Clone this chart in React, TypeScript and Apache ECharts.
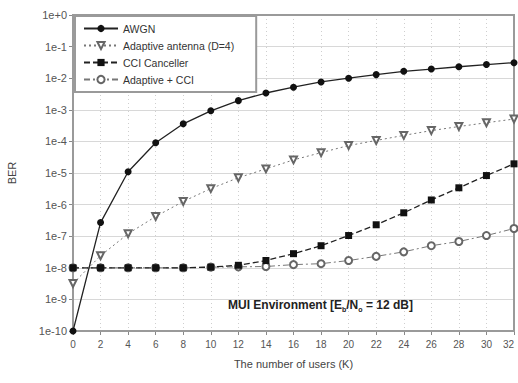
import React, { useEffect, useRef } from "react";
import * as echarts from "echarts";

const users = [0, 2, 4, 6, 8, 10, 12, 14, 16, 18, 20, 22, 24, 26, 28, 30, 32];

const awgn = [1e-10, 2.7e-7, 1.1e-5, 9.1e-5, 3.6e-4, 9.3e-4, 1.95e-3, 3.4e-3, 5.2e-3, 7.6e-3, 1.0e-2, 1.3e-2, 1.65e-2, 1.95e-2, 2.3e-2, 2.7e-2, 3.1e-2];
const adaptive = [3.2e-9, 2.4e-8, 1.2e-7, 4.2e-7, 1.26e-6, 3.2e-6, 7.1e-6, 1.35e-5, 2.6e-5, 4.4e-5, 7.4e-5, 1.07e-4, 1.55e-4, 2.2e-4, 2.95e-4, 3.9e-4, 5.1e-4];
const cci = [1e-8, 1e-8, 1e-8, 1e-8, 1e-8, 1.05e-8, 1.2e-8, 1.7e-8, 2.8e-8, 5e-8, 1.05e-7, 2.3e-7, 5.5e-7, 1.4e-6, 3.4e-6, 8.3e-6, 1.95e-5];
const adaptiveCci = [1e-8, 1e-8, 1e-8, 1e-8, 1e-8, 1.05e-8, 1.07e-8, 1.1e-8, 1.26e-8, 1.35e-8, 1.7e-8, 2.3e-8, 3.2e-8, 5e-8, 6.8e-8, 1.05e-7, 1.75e-7];

const seriesNames = ["AWGN", "Adaptive antenna (D=4)", "CCI Canceller", "Adaptive + CCI"];

const FONT = "Liberation Sans";

export default function App() {
  const ref = useRef<HTMLDivElement>(null);
  useEffect(() => {
    if (!ref.current) return;
    const chart = echarts.init(ref.current, null, { renderer: "svg" });
    const mk = (vals: number[]) => users.map((u, i) => [u, vals[i]]);
    chart.setOption({
      animation: false,
      backgroundColor: "#fff",
      textStyle: { fontFamily: FONT },
      grid: { left: 73, right: 4, top: 15, bottom: 52, outerBoundsMode: "none", containLabel: false },
      legend: {
        left: 75,
        top: 16,
        orient: "vertical",
        backgroundColor: "#fff",
        borderColor: "#9a9a9a",
        borderWidth: 2,
        borderRadius: 0,
        padding: [7, 22, 7, 8],
        itemGap: 6,
        itemWidth: 34,
        itemHeight: 9,
        textStyle: { fontSize: 10.5, color: "#333", fontFamily: FONT },
        data: seriesNames,
      },
      xAxis: {
        type: "value",
        min: 0,
        max: 32,
        interval: 2,
        name: "The number of users (K)",
        nameLocation: "middle",
        nameGap: 27,
        nameTextStyle: { fontSize: 11, color: "#444", fontFamily: FONT },
        axisLine: { lineStyle: { color: "#888", width: 2 } },
        axisTick: { show: true, length: 4, lineStyle: { color: "#888" } },
        axisLabel: { fontSize: 10, color: "#555", margin: 8, alignMaxLabel: "right" },
        splitLine: { show: true, lineStyle: { color: "#cfcfcf", type: [1, 3], width: 1 } },
      },
      yAxis: {
        type: "log",
        logBase: 10,
        min: 1e-10,
        max: 1,
        interval: 1,
        name: "BER",
        nameLocation: "middle",
        nameGap: 56,
        nameRotate: 90,
        nameTextStyle: { fontSize: 11, color: "#444", fontFamily: FONT },
        axisLine: { show: true, lineStyle: { color: "#888", width: 2 } },
        axisTick: { show: true, length: 4, lineStyle: { color: "#888" } },
        axisLabel: {
          fontSize: 11,
          color: "#555",
          margin: 6,
          formatter: (v: number) => {
            const e = Math.round(Math.log10(v));
            return e === 0 ? "1e+0" : "1e" + e;
          },
        },
        splitLine: { show: true, lineStyle: { color: "#d8d8d8", width: 1 } },
        minorSplitLine: { show: false },
      },
      graphic: [
        {
          type: "rect",
          shape: { x: 73, y: 15, width: 441, height: 316 },
          style: { fill: "none", stroke: "#9a9a9a", lineWidth: 2 },
          silent: true,
          z: 1,
        },
        {
          type: "text",
          left: 228,
          top: 299,
          style: {
            text: "{b|MUI Environment [E}{s|b}{b|/N}{s|o}{b| = 12 dB]}",
            rich: {
              b: { fontSize: 12, fontWeight: "bold", fill: "#222", fontFamily: FONT },
              s: { fontSize: 7, fontWeight: "bold", fill: "#222", fontFamily: FONT, padding: [8, 0, 0, 0] },
            },
          },
          z: 10,
        },
      ],
      series: [
        {
          name: seriesNames[0],
          type: "line",
          data: mk(awgn),
          symbol: "circle",
          symbolSize: 7,
          itemStyle: { color: "#111" },
          lineStyle: { color: "#222", width: 1.3 },
          z: 5,
        },
        {
          name: seriesNames[1],
          type: "line",
          data: mk(adaptive),
          symbol: "emptyTriangle",
          symbolRotate: 180,
          symbolSize: 7,
          itemStyle: { color: "#666", borderWidth: 1 },
          lineStyle: { color: "#777", width: 1, type: [2, 3] },
          z: 4,
        },
        {
          name: seriesNames[2],
          type: "line",
          data: mk(cci),
          symbol: "rect",
          symbolSize: 7,
          itemStyle: { color: "#111" },
          lineStyle: { color: "#222", width: 1.3, type: [6, 3] },
          z: 5,
        },
        {
          name: seriesNames[3],
          type: "line",
          data: mk(adaptiveCci),
          symbol: "emptyCircle",
          symbolSize: 7,
          itemStyle: { color: "#666", borderWidth: 1 },
          lineStyle: { color: "#777", width: 1, type: [6, 3, 2, 3] },
          z: 4,
        },
      ],
    });
    return () => chart.dispose();
  }, []);
  return <div ref={ref} style={{ width: 518, height: 383, position: "absolute", left: 0, top: 0 }} />;
}
